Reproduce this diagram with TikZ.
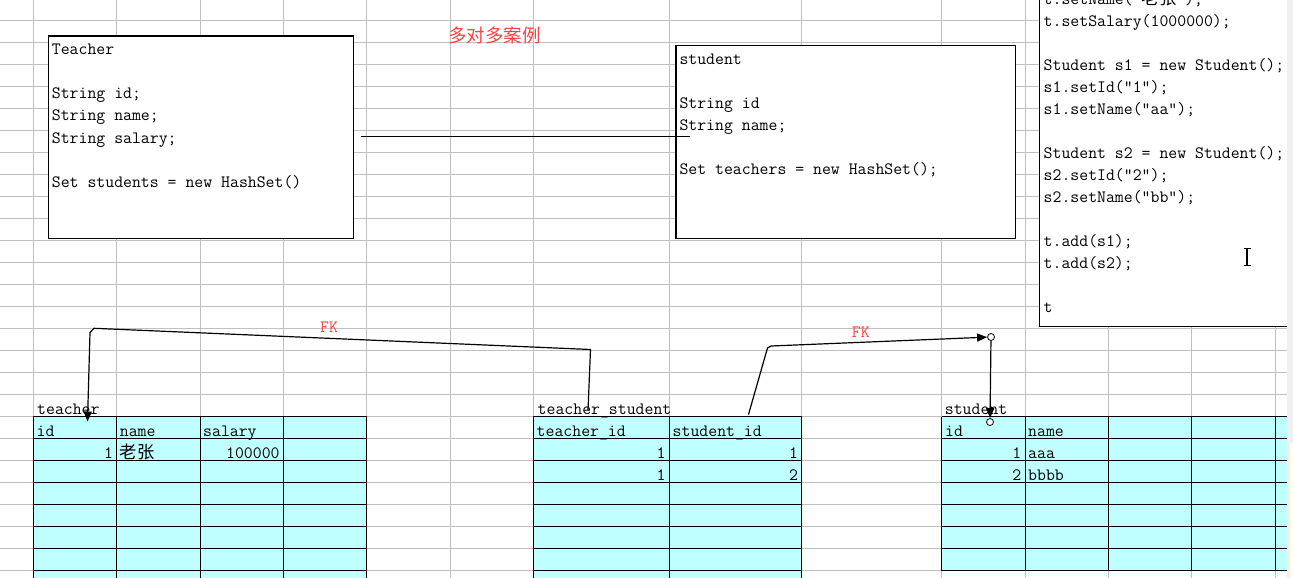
\documentclass[tikz,border=0pt]{standalone}
\usepackage{fontspec}
\newfontfamily\cjk{Noto Sans CJK SC}
\usetikzlibrary{arrows.meta}
\definecolor{gridgray}{RGB}{192,192,192}
\definecolor{cellcyan}{RGB}{192,255,255}
\definecolor{labelred}{RGB}{255,64,64}
\newcommand{\sheetfont}{\fontsize{17.3}{22}\selectfont\ttfamily}

\begin{document}
\begin{tikzpicture}[x=1pt, y=-1pt,
    txt/.style={anchor=base west, inner sep=0pt, font=\sheetfont},
    rtxt/.style={anchor=base east, inner sep=0pt, font=\sheetfont},
    cjktxt/.style={txt, font=\sheetfont\cjk},
    fk/.style={txt, text=labelred},
    gridln/.style={gridgray, line width=1pt},
    cellln/.style={black, line width=1pt},
    classbox/.style={draw=black, fill=white, line width=1.2pt},
    conn/.style={line width=1.2pt, line join=round},
    tip/.style={-{Triangle[length=10pt,width=8pt]}},
    handle/.style={circle, draw=black, fill=white, inner sep=0pt, minimum size=7pt, line width=0.8pt}]
    \useasboundingbox (0,0) rectangle (1293,578);
    \clip (0,0) rectangle (1293,578);
    \fill[white] (0,0) rectangle (1293,578);
    % sheet grid
    \foreach \gx in {33.3,116.7,200,283.3,366.7,450,533.3,669.3,801.7,941.7,1025,1108.3,1191.7,1275}
        \draw[gridln] (\gx,0) -- (\gx,578);
    \foreach \k in {0,...,25}
        \draw[gridln] (0,20.7+22*\k) -- (1287,20.7+22*\k);

    % tables
    \fill[cellcyan] (33.3,416.7) rectangle (366.7,578);
    \foreach \gx in {33.3,116.7,200,283.3,366.7}
        \draw[cellln] (\gx,416.7) -- (\gx,578);
    \foreach \k in {0,...,7}
        \draw[cellln] (33.3,416.7+22*\k) -- (366.7,416.7+22*\k);
    \fill[cellcyan] (533.3,416.7) rectangle (801.7,578);
    \foreach \gx in {533.3,669.3,801.7}
        \draw[cellln] (\gx,416.7) -- (\gx,578);
    \foreach \k in {0,...,7}
        \draw[cellln] (533.3,416.7+22*\k) -- (801.7,416.7+22*\k);
    \fill[cellcyan] (941.7,416.7) rectangle (1287,570.7);
    \foreach \gx in {941.7,1025,1108.3,1191.7,1275}
        \draw[cellln] (\gx,416.7) -- (\gx,570.7);
    \foreach \k in {0,...,7}
        \draw[cellln] (941.7,416.7+22*\k) -- (1287,416.7+22*\k);

    \node[txt] (tLbl) at (37,414.4) {teacher};
    \node[txt] (tH1) at (36.5,436.4) {id};
    \node[txt] (tH2) at (119.7,436.4) {name};
    \node[txt] (tH3) at (203,436.4) {salary};
    \node[rtxt] (tR1a) at (113.2,458.4) {1};
    \node[cjktxt] (tR1b) at (119.7,458.4) {老张};
    \node[rtxt] (tR1c) at (279.8,458.4) {100000};

    \node[txt] (tsLbl) at (537.5,414.4) {teacher\_student};
    \node[txt] (tsH1) at (536.5,436.4) {teacher\_id};
    \node[txt] (tsH2) at (672.5,436.4) {student\_id};
    \node[rtxt] (tsR1a) at (665.8,458.4) {1};
    \node[rtxt] (tsR1b) at (798.2,458.4) {1};
    \node[rtxt] (tsR2a) at (665.8,480.4) {1};
    \node[rtxt] (tsR2b) at (798.2,480.4) {2};

    \node[txt] (sLbl) at (944.7,414.4) {student};
    \node[txt] (sH1) at (945,436.4) {id};
    \node[txt] (sH2) at (1028,436.4) {name};
    \node[rtxt] (sR1a) at (1021.5,458.4) {1};
    \node[txt] (sR1b) at (1028,458.4) {aaa};
    \node[rtxt] (sR2a) at (1021.5,480.4) {2};
    \node[txt] (sR2b) at (1028,480.4) {bbbb};

    % class boxes
    \draw[classbox] (48.7,36) rectangle (353.3,238.7);
    \foreach \n/\codeline in {0/Teacher, 2/String id;, 3/String name;, 4/String salary;, 6/Set students = new HashSet()}
        \node[txt] (tc\n) at (51.7,55+22*\n) {\codeline};
    \draw[classbox] (676,45.5) rectangle (1015.5,238.7);
    \foreach \n/\codeline in {0/student, 2/String id, 3/String name;, 5/Set teachers = new HashSet();}
        \node[txt] (sc\n) at (679.3,64.5+22*\n) {\codeline};
    \coordinate (relL) at (360.7,136.6);
    \coordinate (relR) at (689.5,136.6);
    \draw[line width=1.2pt] (relL) -- (relR);

    % test code
    \draw[classbox] (1039.8,-5) rectangle (1300,326.5);
    \foreach \n/\codeline in {0/t.setName("{\cjk 老张}");, 1/t.setSalary(1000000);, 3/Student s1 = new Student();, 4/s1.setId("1");, 5/s1.setName("aa");, 7/Student s2 = new Student();, 8/s2.setId("2");, 9/s2.setName("bb");, 11/t.add(s1);, 12/t.add(s2);, 14/t}
        \node[txt] (cc\n) at (1043.5,4.7+22*\n) {\codeline};
    \draw[line width=1.2pt] (1247,249) -- (1247,265);
    \draw[line width=1pt] (1243.5,248.5) -- (1250.5,248.5);
    \draw[line width=1pt] (1243.5,265.5) -- (1250.5,265.5);

    \node[anchor=base west, inner sep=0pt, text=labelred, font=\fontsize{18.5}{22}\selectfont\cjk] (title) at (448,43) {多对多案例};

    % foreign keys
    \coordinate (tsT) at (588,410.5);
    \coordinate (fk1a) at (590.5,349.5);
    \coordinate (fk1b) at (94,328.3);
    \coordinate (fk1c) at (90,332.5);
    \coordinate (tId) at (87.5,421.5);
    \draw[conn, tip] (tsT) -- (fk1a) -- (fk1b) -- (fk1c) -- (tId);
    \node[fk] (fk1) at (320,332.5) {FK};

    \coordinate (tsS) at (748.5,414.5);
    \coordinate (fk2a) at (767.5,348);
    \coordinate (fk2b) at (771,346);
    \node[handle] (hTop) at (991,337) {};
    \node[handle] (hBot) at (990,422) {};
    \draw[conn, tip] (tsS) -- (fk2a) -- (fk2b) -- (hTop);
    \draw[conn, tip] (hTop) -- (hBot);
    \node[fk] (fk2) at (851.7,337) {FK};

    \fill[gray!12] (1287,0) rectangle (1293,578);
    \fill[yellow!10!white] (1290,443) rectangle (1293,578);
\end{tikzpicture}
\end{document}
